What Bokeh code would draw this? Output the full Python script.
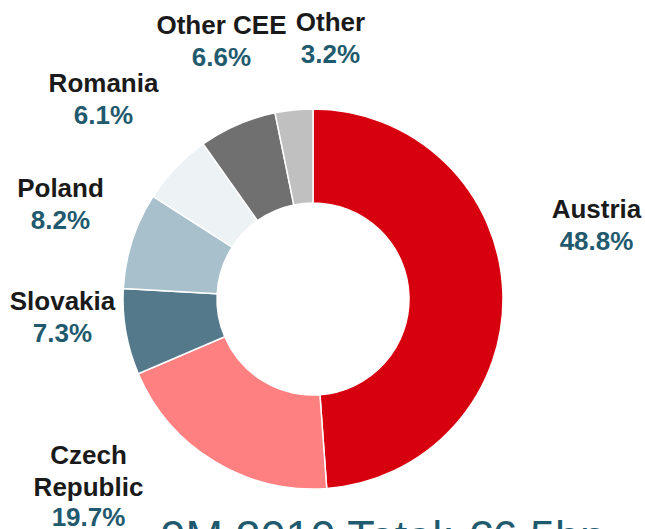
import math
from bokeh.plotting import figure
from bokeh.models import Range1d, ColumnDataSource
from bokeh.core.properties import value
from bokeh.embed import file_html
from bokeh.resources import INLINE

# ---- data ----
regions = ["Austria", "Czech Republic", "Slovakia", "Poland", "Romania", "Other CEE", "Other"]
shares = [48.8, 19.7, 7.3, 8.2, 6.1, 6.6, 3.2]
colors = ["#D7000F", "#FF8080", "#54798B", "#A7C0CC", "#EDF2F5", "#707070", "#C0C0C0"]
total_label = "9M 2010 Total: \u20ac6.5bn"

# ---- layout (pixel-like coordinates, y measured from top) ----
W, H = 645, 529
cx, cy_top = 312.5, 298.5
outer_r, inner_r = 190, 96
name_lines = [["Austria"], ["Czech", "Republic"], ["Slovakia"], ["Poland"], ["Romania"], ["Other CEE"], ["Other"]]
label_pos = [(596, 208), (88, 454), (62, 300), (60, 187), (103, 82), (221, 24), (330, 21)]
line_gap = 32

def Y(py):
    return H - py

p = figure(width=W, height=H, output_backend="svg", toolbar_location=None,
           x_axis_type=None, y_axis_type=None, min_border=0,
           x_range=Range1d(0, W), y_range=Range1d(0, H))
p.outline_line_color = None
p.grid.visible = False
p.background_fill_color = "white"

tot = sum(shares)
starts, ends = [], []
cum = 0.0
for s in shares:
    a0 = cum / tot
    cum += s
    a1 = cum / tot
    starts.append(math.pi / 2 - 2 * math.pi * a1)
    ends.append(math.pi / 2 - 2 * math.pi * a0)

src = ColumnDataSource(dict(x=[cx] * len(shares), y=[Y(cy_top)] * len(shares),
                            start=starts, end=ends, color=colors))
p.annular_wedge(x="x", y="y", inner_radius=inner_r, outer_radius=outer_r,
                start_angle="start", end_angle="end", fill_color="color",
                line_color="white", line_width=1.5, source=src)

nx, ny, nt = [], [], []
px, py, pt = [], [], []
for lines, (lx, ly), s in zip(name_lines, label_pos, shares):
    for k, ln in enumerate(lines):
        nx.append(lx); ny.append(Y(ly + k * line_gap)); nt.append(ln)
    gap = line_gap if len(lines) == 1 else line_gap - 0.75
    px.append(lx); py.append(Y(ly + len(lines) * gap)); pt.append(f"{s:.1f}%")

p.text(x=nx, y=ny, text=nt, text_font=value("Liberation Sans"), text_font_style="bold",
       text_font_size="26px", text_color="#1a1a1a", text_align="center", text_baseline="middle")
p.text(x=px, y=py, text=pt, text_font=value("Liberation Sans"), text_font_style="bold",
       text_font_size="26px", text_color="#1F5A6E", text_align="center", text_baseline="middle")

p.text(x=[160], y=[Y(510)], text=[total_label], text_font=value("Liberation Sans"),
       text_font_size="45px", text_color="#1F5A6E", text_align="left", text_baseline="top")

open("out.html", "w").write(file_html(p, INLINE))
